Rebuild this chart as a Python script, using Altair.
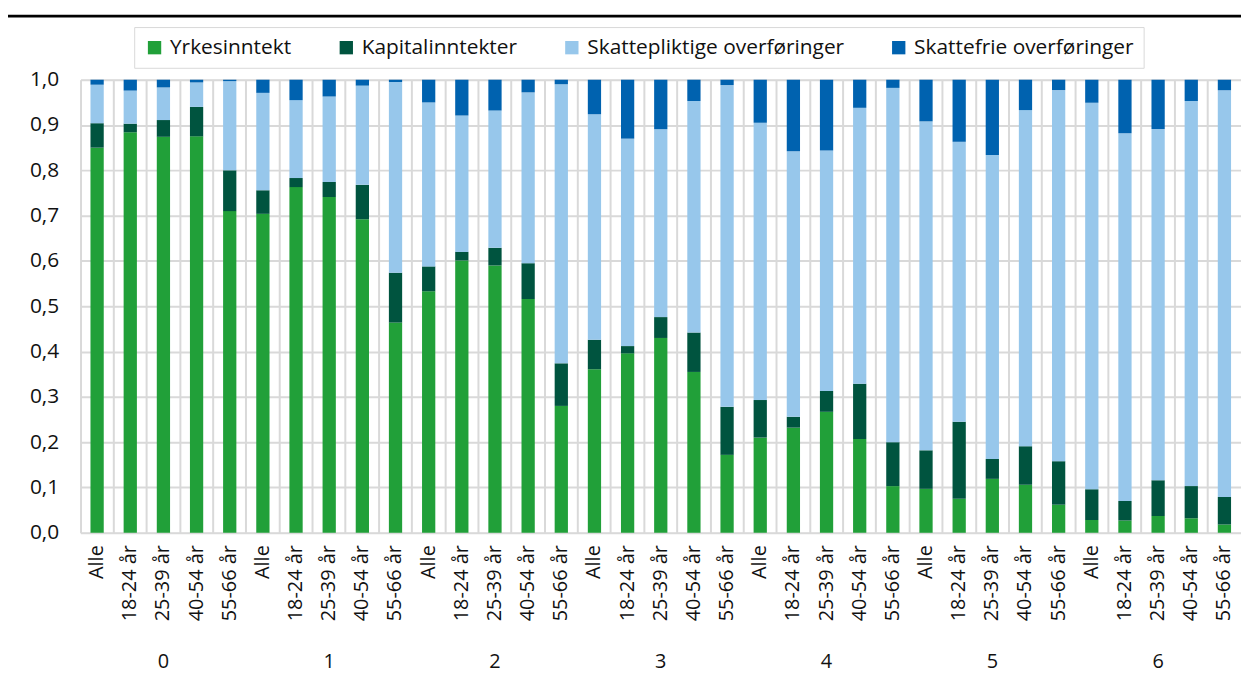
import altair as alt
import pandas as pd

groups = ["0", "1", "2", "3", "4", "5", "6"]
ages = ["Alle", "18-24 år", "25-39 år", "40-54 år", "55-66 år"]
components = ["Yrkesinntekt", "Kapitalinntekter", "Skattepliktige overføringer", "Skattefrie overføringer"]
colors = ["#21a039", "#00543f", "#97c7eb", "#0062af"]

yrkesinntekt = [0.850, 0.884, 0.874, 0.875, 0.710,
                0.704, 0.763, 0.741, 0.692, 0.464,
                0.533, 0.601, 0.590, 0.516, 0.280,
                0.361, 0.396, 0.430, 0.355, 0.172,
                0.210, 0.232, 0.267, 0.207, 0.103,
                0.097, 0.075, 0.119, 0.106, 0.062,
                0.028, 0.027, 0.037, 0.032, 0.018]
kapitalinntekter = [0.054, 0.019, 0.037, 0.065, 0.090,
                    0.052, 0.020, 0.033, 0.076, 0.110,
                    0.055, 0.019, 0.039, 0.079, 0.094,
                    0.065, 0.016, 0.046, 0.087, 0.106,
                    0.083, 0.024, 0.046, 0.122, 0.097,
                    0.085, 0.170, 0.044, 0.085, 0.096,
                    0.068, 0.043, 0.079, 0.071, 0.061]
skattepliktige = [0.085, 0.073, 0.072, 0.054, 0.197,
                  0.215, 0.172, 0.189, 0.219, 0.421,
                  0.362, 0.301, 0.303, 0.377, 0.616,
                  0.498, 0.458, 0.415, 0.511, 0.710,
                  0.612, 0.586, 0.531, 0.609, 0.782,
                  0.726, 0.618, 0.671, 0.742, 0.819,
                  0.853, 0.812, 0.775, 0.850, 0.898]
skattefrie = [0.011, 0.024, 0.017, 0.006, 0.003,
              0.029, 0.045, 0.037, 0.013, 0.005,
              0.050, 0.079, 0.068, 0.028, 0.010,
              0.076, 0.130, 0.109, 0.047, 0.012,
              0.095, 0.158, 0.156, 0.062, 0.018,
              0.092, 0.137, 0.166, 0.067, 0.023,
              0.051, 0.118, 0.109, 0.047, 0.023]

series = [yrkesinntekt, kapitalinntekter, skattepliktige, skattefrie]

keys = [f"{g}|{a}" for g in groups for a in ages]
rows = []
for ci, (comp, vals) in enumerate(zip(components, series)):
    for k, v in zip(keys, vals):
        rows.append({"key": k, "comp": comp, "order": ci, "value": v})
df = pd.DataFrame(rows)

grp_df = pd.DataFrame({"key": [f"{g}|25-39 år" for g in groups], "g": groups})
line_df = pd.DataFrame({"a": [0]})

W, H = 1168, 456
FONT = "Open Sans"
TXT = "#111111"

x_enc = alt.X("key:N", sort=keys,
              scale=alt.Scale(paddingInner=0, paddingOuter=0),
              axis=alt.Axis(title=None, labelExpr="split(datum.value,'|')[1]",
                            labelAngle=270, grid=True, bandPosition=0, ticks=False,
                            domain=False, gridColor="#d9d9d9", gridWidth=2,
                            labelFontSize=20, labelPadding=12, labelColor=TXT,
                            labelFont=FONT, labelLimit=300))

bars = alt.Chart(df).mark_bar(width=alt.RelativeBandSize(0.4)).encode(
    x=x_enc,
    y=alt.Y("value:Q", stack="zero",
            scale=alt.Scale(domain=[0, 1], nice=False),
            axis=alt.Axis(title=None, values=[i / 10 for i in range(11)],
                          labelExpr="replace(format(datum.value,'.1f'),'.',',')",
                          grid=True, gridColor="#d9d9d9", gridWidth=2,
                          ticks=False, domain=False, labelFontSize=21,
                          labelPadding=22, labelColor=TXT, labelFont=FONT)),
    color=alt.Color("comp:N", scale=alt.Scale(domain=components, range=colors),
                    legend=alt.Legend(orient="none", legendX=54, legendY=-53,
                                      direction="horizontal", title=None,
                                      symbolType="square", symbolSize=180,
                                      symbolStrokeWidth=0, labelFontSize=21,
                                      labelFont=FONT, labelColor=TXT,
                                      labelLimit=500,
                                      strokeColor="#d9d9d9", padding=10,
                                      columnPadding=44, labelOffset=5)),
    order=alt.Order("order:Q"),
)

grp_text = alt.Chart(grp_df).mark_text(fontSize=20, font=FONT, color=TXT,
                                       baseline="middle").encode(
    x=x_enc,
    y=alt.value(H + 130),
    text="g:N",
)

top_line = alt.Chart(line_df).mark_rule(color="black", strokeWidth=3).encode(
    x=alt.value(-73), x2=alt.value(W), y=alt.value(-64)
)

chart = alt.layer(bars, grp_text, top_line).properties(
    width=W, height=H,
    autosize=alt.AutoSizeParams(type="none"),
    padding={"left": 73, "top": 70, "right": 0, "bottom": 147},
).configure_view(stroke=None).configure(font=FONT)

chart.save("out.html", embed_options={"renderer": "svg", "actions": False})
